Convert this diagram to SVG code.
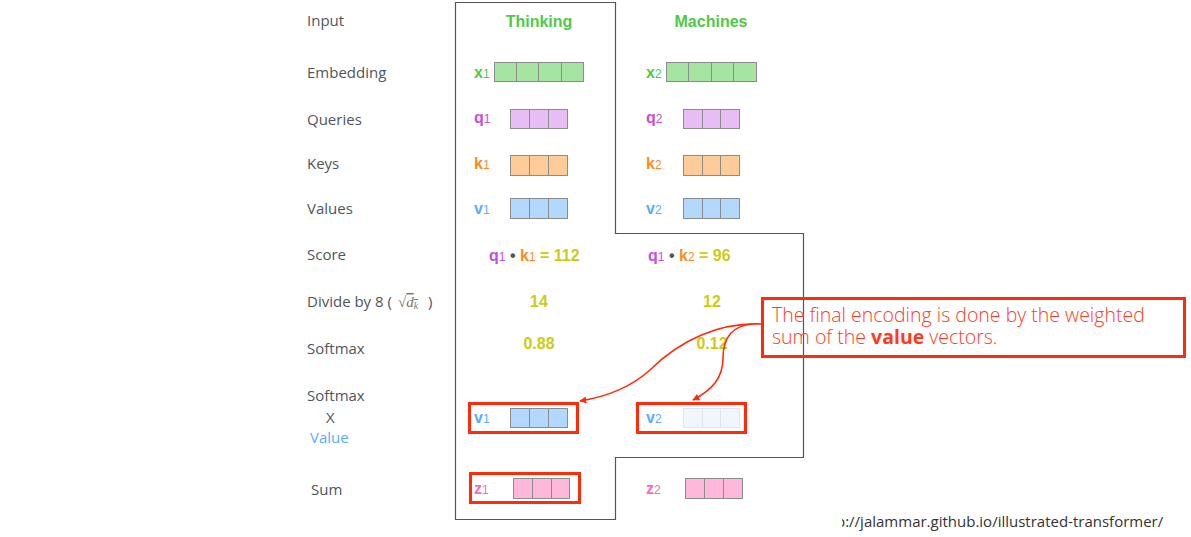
<svg xmlns="http://www.w3.org/2000/svg" width="1191" height="537" viewBox="0 0 1191 537">
<style>
.lab{font-family:"Open Sans","Liberation Sans",sans-serif;font-size:15px;fill:#50555c}
.word{font-family:"Liberation Sans",Arial,sans-serif;font-size:16px;font-weight:bold;fill:#4fc947}
.sym{font-family:"Liberation Sans",Arial,sans-serif;font-size:16px;font-weight:bold}
.sub{font-size:12px;font-weight:normal}
.num{font-family:"Liberation Sans",Arial,sans-serif;font-size:16px;font-weight:bold;fill:#cccc12}
.cell{stroke:#8c8c8c;stroke-width:1}
.g{fill:#a6e5a1}.p{fill:#e8bdf6}.o{fill:#ffcc99}.b{fill:#b3d8fd}.pk{fill:#ffb7da}.fb{fill:#f1f6fd;stroke:#dde5ee}
.red{fill:none;stroke:#ff2b0a;stroke-width:3}
.callout{font-family:"Open Sans","Liberation Sans",sans-serif;font-size:19.5px;font-weight:300;fill:#ff3b1e}
.arr{fill:none;stroke:#ff2b0a;stroke-width:1.6}
</style>
<defs>
<marker id="ah" viewBox="0 0 10 10" refX="9" refY="5" markerWidth="7" markerHeight="7" orient="auto" markerUnits="userSpaceOnUse">
<path d="M0,0 L10,5 L0,10 z" fill="#ff2b0a"/>
</marker>
<clipPath id="cclip"><rect x="842" y="505" width="349" height="32"/></clipPath>
</defs>
<rect width="1191" height="537" fill="#ffffff"/>

<g id="outline">
<path d="M455.5,2.5 H615.5 V233.5 H803.5 V457.5 H615.5 V519.5 H455.5 Z" fill="none" stroke="#555" stroke-width="1.2"/>
</g>

<g id="row-labels">
<text class="lab" x="307" y="26">Input</text>
<text class="lab" x="307" y="78">Embedding</text>
<text class="lab" x="307" y="125">Queries</text>
<text class="lab" x="307" y="169">Keys</text>
<text class="lab" x="307" y="214">Values</text>
<text class="lab" x="307" y="260">Score</text>
<text class="lab" x="307" y="307">Divide by 8 (</text>
<text x="398" y="307" font-family="'Liberation Serif',serif" font-size="15" fill="#777">√<tspan font-style="italic" text-decoration="overline">d<tspan font-size="10" dy="2">k</tspan></tspan></text>
<text class="lab" x="428" y="307">)</text>
<text class="lab" x="307" y="354">Softmax</text>
<text class="lab" x="307" y="401">Softmax</text>
<text class="lab" x="326" y="423">X</text>
<text class="lab" x="310" y="443" style="fill:#5aacff">Value</text>
<text class="lab" x="311" y="495">Sum</text>
</g>

<g id="thinking">
<text class="word" x="539" y="27" text-anchor="middle">Thinking</text>
<text class="sym" x="474" y="78" fill="#4fc947">x<tspan class="sub">1</tspan></text>
<rect class="cell g" x="494.5" y="62.5" width="89" height="19"/>
<path class="cell" d="M516.5,62.5V81.5M538.5,62.5V81.5M561.5,62.5V81.5"/>
<text class="sym" x="474" y="123" fill="#c64ee0">q<tspan class="sub">1</tspan></text>
<rect class="cell p" x="510.5" y="109.5" width="57" height="19"/>
<path class="cell" d="M529.5,109.5V128.5M548.5,109.5V128.5"/>
<text class="sym" x="474" y="169" fill="#ff8a1c">k<tspan class="sub">1</tspan></text>
<rect class="cell o" x="510.5" y="155.5" width="57" height="20"/>
<path class="cell" d="M529.5,155.5V175.5M548.5,155.5V175.5"/>
<text class="sym" x="474" y="214" fill="#5aacff">v<tspan class="sub">1</tspan></text>
<rect class="cell b" x="510.5" y="198.5" width="57" height="20"/>
<path class="cell" d="M529.5,198.5V218.5M548.5,198.5V218.5"/>
<text class="sym" x="489" y="261"><tspan fill="#c64ee0">q<tspan class="sub">1</tspan></tspan><tspan fill="#555"> • </tspan><tspan fill="#ff8a1c">k<tspan class="sub">1</tspan></tspan><tspan fill="#cccc12"> = 112</tspan></text>
<text class="num" x="539" y="307" text-anchor="middle">14</text>
<text class="num" x="539" y="349" text-anchor="middle">0.88</text>
<rect class="red" x="469.5" y="403.5" width="108" height="29"/>
<text class="sym" x="474" y="423" fill="#5aacff">v<tspan class="sub">1</tspan></text>
<rect class="cell b" x="510.5" y="408.5" width="57" height="19"/>
<path class="cell" d="M529.5,408.5V427.5M548.5,408.5V427.5"/>
<rect class="red" x="470.5" y="473.5" width="109" height="29"/>
<text class="sym" x="474" y="494" fill="#f36db7">z<tspan class="sub">1</tspan></text>
<rect class="cell pk" x="513.5" y="478.5" width="56" height="20"/>
<path class="cell" d="M532.5,478.5V498.5M551.5,478.5V498.5"/>
</g>

<g id="machines">
<text class="word" x="711" y="27" text-anchor="middle">Machines</text>
<text class="sym" x="646" y="78" fill="#4fc947">x<tspan class="sub">2</tspan></text>
<rect class="cell g" x="666.5" y="62.5" width="90" height="19"/>
<path class="cell" d="M688.5,62.5V81.5M711.5,62.5V81.5M733.5,62.5V81.5"/>
<text class="sym" x="646" y="123" fill="#c64ee0">q<tspan class="sub">2</tspan></text>
<rect class="cell p" x="683.5" y="109.5" width="56" height="19"/>
<path class="cell" d="M702.5,109.5V128.5M720.5,109.5V128.5"/>
<text class="sym" x="646" y="169" fill="#ff8a1c">k<tspan class="sub">2</tspan></text>
<rect class="cell o" x="683.5" y="155.5" width="56" height="20"/>
<path class="cell" d="M702.5,155.5V175.5M720.5,155.5V175.5"/>
<text class="sym" x="646" y="214" fill="#5aacff">v<tspan class="sub">2</tspan></text>
<rect class="cell b" x="683.5" y="198.5" width="56" height="20"/>
<path class="cell" d="M702.5,198.5V218.5M720.5,198.5V218.5"/>
<text class="sym" x="648" y="261"><tspan fill="#c64ee0">q<tspan class="sub">1</tspan></tspan><tspan fill="#555"> • </tspan><tspan fill="#ff8a1c">k<tspan class="sub">2</tspan></tspan><tspan fill="#cccc12">  = 96</tspan></text>
<text class="num" x="712" y="307" text-anchor="middle">12</text>
<text class="num" x="712" y="349" text-anchor="middle">0.12</text>
<rect class="red" x="637.5" y="403.5" width="108" height="29"/>
<text class="sym" x="646" y="423" fill="#5aacff">v<tspan class="sub">2</tspan></text>
<rect class="cell fb" x="683.5" y="408.5" width="56" height="19"/>
<path class="cell" style="stroke:#dde5ee" d="M702.5,408.5V427.5M720.5,408.5V427.5"/>
<text class="sym" x="646" y="494" fill="#f36db7">z<tspan class="sub">2</tspan></text>
<rect class="cell pk" x="685.5" y="478.5" width="57" height="20"/>
<path class="cell" d="M704.5,478.5V498.5M723.5,478.5V498.5"/>
</g>

<g id="callout">
<rect class="red" x="762.5" y="298.5" width="422" height="58"/>
<text class="callout" x="772" y="322">The final encoding is done by the weighted</text>
<text class="callout" x="772" y="344">sum of the <tspan font-weight="bold">value</tspan> vectors.</text>
</g>

<g id="connectors">
<path class="arr" marker-end="url(#ah)" d="M762,324 C720,322 680,340 650,370 C630,388 605,397 580,401"/>
<path class="arr" marker-end="url(#ah)" d="M752,324 C730,326 723,340 723,358 C723,378 712,390 693,400"/>
</g>

<g id="credit">
<text clip-path="url(#cclip)" x="836" y="527" font-family="'Open Sans','Liberation Sans',sans-serif" font-size="15" fill="#333">p://jalammar.github.io/illustrated-transformer/</text>
</g>
</svg>
